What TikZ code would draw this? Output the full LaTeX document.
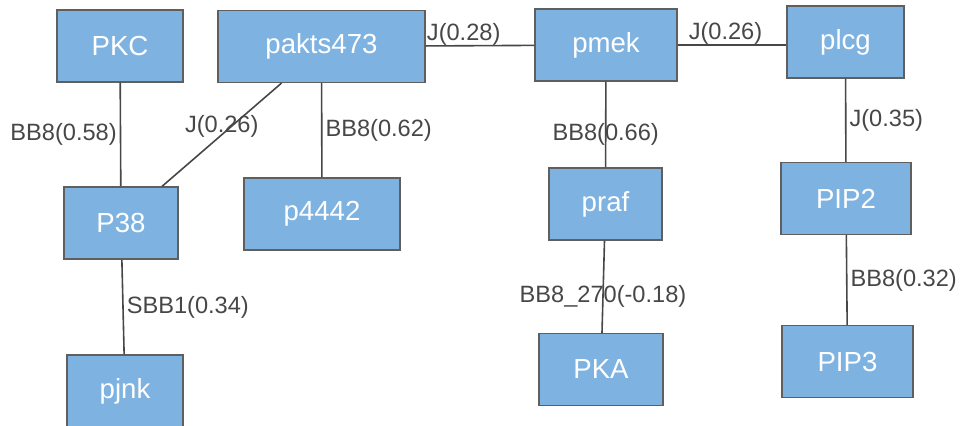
\documentclass[tikz,border=0pt]{standalone}
\usepackage{fontspec}
\setmainfont{Liberation Sans}
\usetikzlibrary{shapes}
\definecolor{boxblue}{HTML}{7EB2E1}
\definecolor{boxline}{HTML}{5F5F5F}
\definecolor{linkgray}{HTML}{474747}
\tikzstyle{box}=[rectangle,draw=boxline,fill=boxblue,line width=.6pt,minimum height=36pt,text=white,font=\fontsize{13.8}{16}\selectfont]
\tikzstyle{lnk}=[draw=linkgray,line width=.8pt]
\tikzstyle{lbl}=[text=linkgray,font=\fontsize{11.8}{14}\selectfont,inner sep=1.5pt]

\begin{document}
\begin{tikzpicture}[x=50pt,y=50pt]
\useasboundingbox (0,0) rectangle (9.6,4.25);
% top row
\node[box,minimum width=63pt] (pkc) at (1.20,3.79) {PKC};
\node[box,minimum width=103.5pt] (pakts) at (3.215,3.785) {pakts473};
\node[box,minimum width=71pt] (pmek) at (6.06,3.80) {pmek};
\node[box,minimum width=58.5pt] (plcg) at (8.455,3.83) {plcg};
% middle row
\node[box,minimum width=57pt] (p38) at (1.21,2.02) {P38};
\node[box,minimum width=78pt] (p4442) at (3.22,2.11) {p4442};
\node[box,minimum width=56.5pt] (praf) at (6.055,2.21) {praf};
\node[box,minimum width=65pt] (pip2) at (8.46,2.265) {PIP2};
% bottom row
\node[box,minimum width=58pt] (pjnk) at (1.25,0.34) {pjnk};
\node[box,minimum width=62pt] (pka) at (6.01,0.555) {PKA};
\node[box,minimum width=65.5pt] (pip3) at (8.475,0.635) {PIP3};

% links
\draw[lnk] (pkc) -- node[lbl,left] {BB8(0.58)} (p38);
\draw[lnk] ([xshift=-20pt]pakts.south) -- node[lbl,yshift=4pt] {J(0.26)} ([xshift=20.5pt]p38.north);
\draw[lnk] (pakts) -- node[lbl,right] {BB8(0.62)} (p4442);
\draw[lnk] (pakts) -- node[lbl,above,pos=.35,inner sep=0pt] {J(0.28)} (pmek);
\draw[lnk] (pmek.east) -- node[lbl,above,pos=.44,inner sep=0pt] {J(0.26)} (pmek.east -| plcg.west);
\draw[lnk] (pmek) -- node[lbl,pos=.62] {BB8(0.66)} (praf);
\draw[lnk] (plcg) -- node[lbl,right] {J(0.35)} (pip2);
\draw[lnk] (praf) -- node[lbl,pos=.6] {BB8\_270(-0.18)} (pka);
\draw[lnk] (pip2) -- node[lbl,right] {BB8(0.32)} (pip3);
\draw[lnk] (p38) -- node[lbl,right] {SBB1(0.34)} (pjnk);
\end{tikzpicture}
\end{document}
